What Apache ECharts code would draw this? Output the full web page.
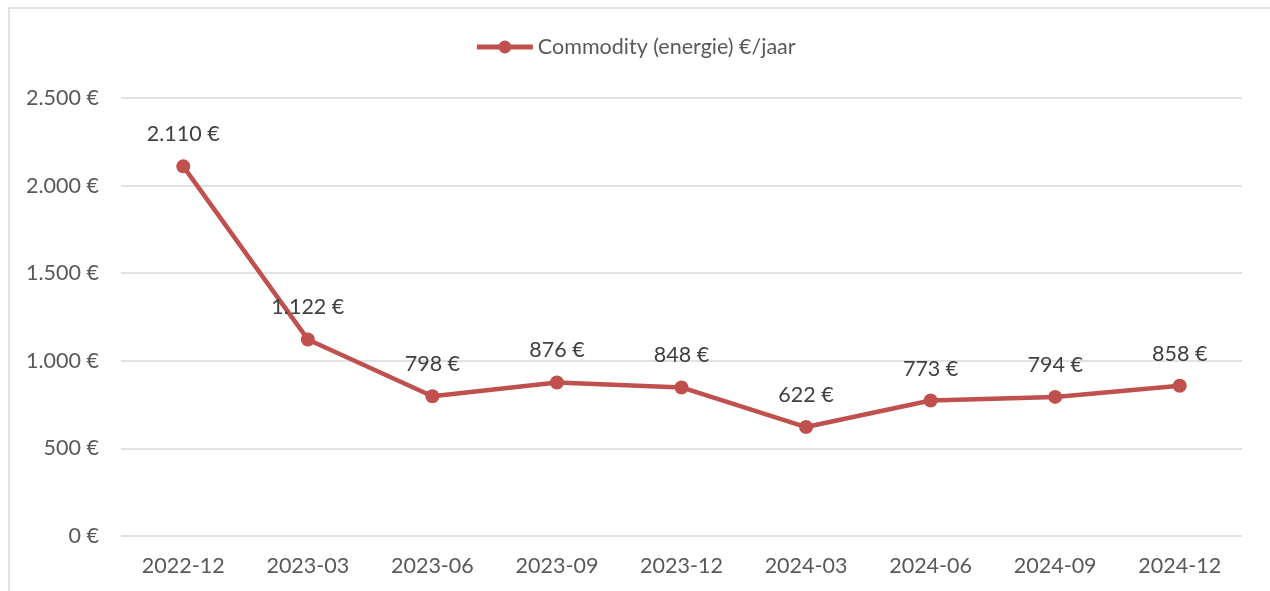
<!DOCTYPE html>
<html>
<head>
<meta charset="utf-8">
<script src="https://cdn.jsdelivr.net/npm/echarts@6/dist/echarts.min.js"></script>
<style>
	html, body { margin: 0; padding: 0; background: #fff; }
	#chart { width: 1270px; height: 591px; }
</style>
</head>
<body>
<div id="chart"></div>
<script>
// quarters on the x axis
var categories = ['2022-12', '2023-03', '2023-06', '2023-09', '2023-12', '2024-03', '2024-06', '2024-09', '2024-12'];
// commodity cost per year (euro)
var commodityValues = [2110, 1122, 798, 876, 848, 622, 773, 794, 858];
var seriesName = 'Commodity (energie) €/jaar';
var yTicks = [0, 500, 1000, 1500, 2000, 2500];

// format numbers like 2.110 €
function euro(v) {
	var s = String(Math.round(v));
	return s.replace(/\B(?=(\d{3})+(?!\d))/g, '.') + ' €';
}

var myChart = echarts.init(document.getElementById('chart'));
var fontFam = 'Lato, "Noto Sans", sans-serif';
var fs = 21.5;
var option = {
	animation: false,
	backgroundColor: '#fff',
	textStyle: { fontFamily: fontFam },
	graphic: [{
		type: 'rect',
		shape: { x: 9, y: 8, width: 1270, height: 600 },
		style: { fill: 'none', stroke: '#d9d9d9', lineWidth: 1.5 },
		silent: true
	}],
	legend: {
		top: 31,
		left: 'center',
		itemWidth: 56,
		itemHeight: 16,
		itemGap: 4,
		lineStyle: { width: 5 },
		textStyle: { fontSize: fs, color: '#595959', fontFamily: fontFam },
		data: [seriesName]
	},
	grid: { left: 121, right: 28, top: 98, bottom: 55 },
	xAxis: {
		type: 'category',
		data: categories,
		axisLine: { show: false },
		axisTick: { show: false },
		axisLabel: { color: '#595959', fontSize: fs, margin: 19, fontFamily: fontFam }
	},
	yAxis: {
		type: 'value',
		min: yTicks[0],
		max: yTicks[yTicks.length - 1],
		interval: 500,
		axisLine: { show: false },
		axisTick: { show: false },
		splitLine: { lineStyle: { color: '#d9d9d9', width: 1.5 } },
		axisLabel: {
			color: '#595959', fontSize: fs, margin: 22, fontFamily: fontFam,
			formatter: function(v) { return euro(v); }
		}
	},
	series: [{
		name: seriesName,
		type: 'line',
		data: commodityValues,
		symbol: 'circle',
		symbolSize: 14,
		itemStyle: { color: '#c0504d' },
		lineStyle: { color: '#c0504d', width: 4.5 },
		label: {
			show: true,
			position: 'top',
			distance: 14,
			color: '#404040',
			fontSize: fs,
			fontFamily: fontFam,
			formatter: function(p) { return euro(p.value); }
		}
	}]
};
myChart.setOption(option);
</script>
</body>
</html>
